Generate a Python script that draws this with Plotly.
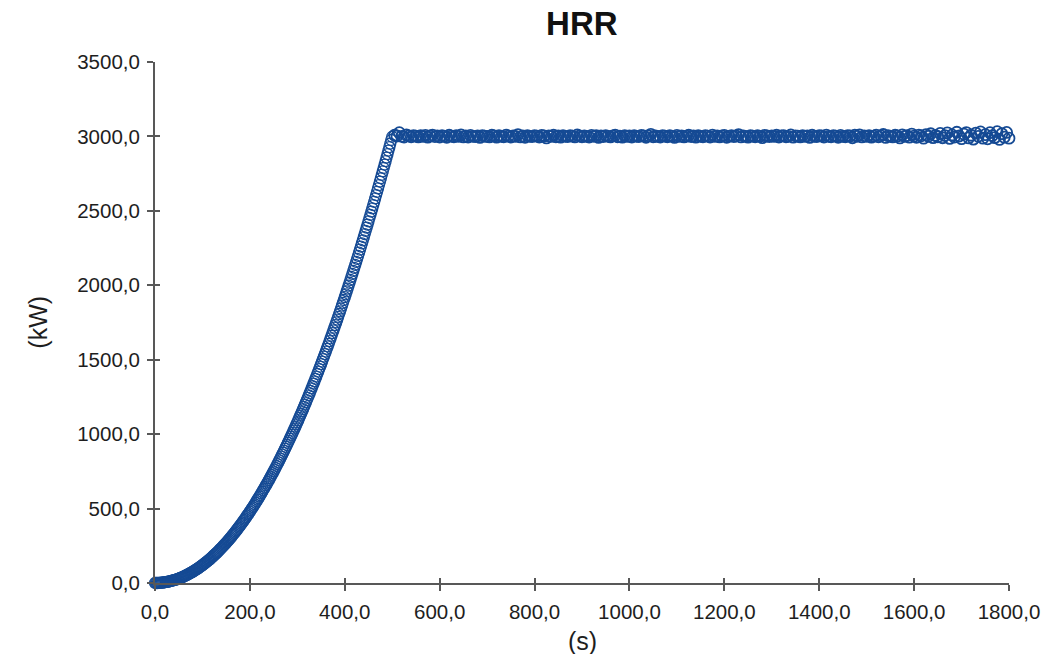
import plotly.graph_objects as go

# Growth phase, logged every 2 s from 0 s to 500 s (kW)
GROWTH_STEP_S = 2
hrr_growth = [
    0, 0, 0, 0, 1, 1, 2, 2, 3, 4, 5, 6, 7, 8, 9, 11, 12, 14, 16, 17, 19, 21, 23, 25, 28,
    30, 32, 35, 38, 40, 43, 46, 49, 52, 55, 59, 62, 66, 69, 73, 77, 81, 85, 89, 93, 97, 102, 106, 111, 115,
    120, 125, 130, 135, 140, 145, 151, 156, 161, 167, 173, 179, 185, 191, 197, 203, 209, 215, 222, 229, 235, 242, 249, 256, 263,
    270, 277, 285, 292, 300, 307, 315, 323, 331, 339, 347, 355, 363, 372, 380, 389, 397, 406, 415, 424, 433, 442, 452, 461, 470,
    480, 490, 499, 509, 519, 529, 539, 550, 560, 570, 581, 591, 602, 613, 624, 635, 646, 657, 668, 680, 691, 703, 714, 726, 738,
    750, 762, 774, 786, 799, 811, 824, 836, 849, 862, 875, 888, 901, 914, 927, 941, 954, 968, 982, 995, 1009, 1023, 1037, 1051, 1066,
    1080, 1094, 1109, 1124, 1138, 1153, 1168, 1183, 1198, 1213, 1229, 1244, 1260, 1275, 1291, 1307, 1323, 1339, 1355, 1371, 1387, 1404, 1420, 1437, 1453,
    1470, 1487, 1504, 1521, 1538, 1555, 1573, 1590, 1607, 1625, 1643, 1661, 1679, 1697, 1715, 1733, 1751, 1769, 1788, 1807, 1825, 1844, 1863, 1882, 1901,
    1920, 1939, 1959, 1978, 1998, 2017, 2037, 2057, 2077, 2097, 2117, 2137, 2157, 2178, 2198, 2219, 2239, 2260, 2281, 2302, 2323, 2344, 2366, 2387, 2408,
    2430, 2452, 2473, 2495, 2517, 2539, 2561, 2584, 2606, 2628, 2651, 2673, 2696, 2719, 2742, 2765, 2788, 2811, 2834, 2858, 2881, 2905, 2928, 2952, 2976,
    2998,
]

# Steady phase, logged every 5 s from 505 s to 1800 s (kW)
STEADY_STEP_S = 5
STEADY_START_S = 505
hrr_steady = [
    3008, 3003, 3025, 3001, 2996, 3010, 3004, 2998, 3006, 3002,
    2997, 3005, 3000, 3007, 2995, 3003, 3009, 2999, 3004, 2996,
    3006, 3001, 2994, 3008, 3002, 2998, 3005, 3000, 3010, 2997,
    3003, 2996, 3007, 3001, 2999, 3004, 2993, 3006, 3002, 3000,
    2997, 3008, 3003, 2995, 3005, 3001, 2998, 3009, 3002, 2996,
    3004, 3000, 3012, 2997, 3003, 2994, 3006, 3001, 2999, 3005,
    3002, 2996, 3007, 3003, 2990, 3004, 3000, 3008, 2998, 3003,
    2995, 3005, 3001, 2999, 3006, 3002, 2997, 3010, 3003, 2998,
    3004, 3000, 2996, 3007, 3001, 3005, 2993, 3003, 2999, 3006,
    3001, 2997, 3004, 3009, 2998, 3002, 2995, 3006, 3000, 3003,
    2996, 3005, 3001, 2999, 3007, 3003, 2994, 3004, 3014, 2998,
    3003, 3000, 2996, 3006, 3002, 2998, 3005, 3001, 2993, 3007,
    3000, 3004, 2997, 3002, 3008, 2999, 3003, 2995, 3006, 3001,
    2998, 3005, 3002, 2996, 3009, 3000, 3004, 2997, 3003, 3007,
    2994, 3001, 3006, 2999, 3003, 3012, 2997, 3004, 3000, 2995,
    3006, 3002, 2998, 3005, 3001, 2992, 3007, 3003, 2999, 3004,
    3000, 3008, 2996, 3003, 3005, 2998, 3001, 3010, 2995, 3004,
    3002, 2997, 3006, 3000, 3004, 2993, 3008, 3001, 2999, 3005,
    3003, 2996, 3009, 3001, 2998, 3006, 3002, 2994, 3007, 3000,
    2998, 3005, 3003, 2991, 3008, 3001, 3011, 2997, 3004, 3000,
    3006, 2995, 3002, 3009, 2998, 3004, 3013, 2993, 3005, 3001,
    2997, 3008, 3003, 2990, 3010, 3000, 3006, 2995, 3016, 3002,
    2994, 3009, 3004, 2988, 3012, 3001, 3018, 2992, 3007, 2998,
    3020, 2991, 3006, 3024, 2987, 3010, 2996, 3028, 3003, 2985,
    3015, 3026, 2990, 3008, 2982, 3022, 3001, 3030, 2988, 3012,
    2984, 3025, 3006, 2992, 3032, 2980, 3018, 2995, 3027, 2988,
]

time_growth = [i * GROWTH_STEP_S for i in range(len(hrr_growth))]
time_steady = [STEADY_START_S + i * STEADY_STEP_S for i in range(len(hrr_steady))]
time_s = time_growth + time_steady
hrr_kw = hrr_growth + hrr_steady

x_ticks = [0, 200, 400, 600, 800, 1000, 1200, 1400, 1600, 1800]
y_ticks = [0, 500, 1000, 1500, 2000, 2500, 3000, 3500]

AXIS_COLOR = "#585858"
TEXT_COLOR = "#1e1e1e"
MARKER_COLOR = "#154a94"
FONT = "Liberation Sans, Arial, sans-serif"

# Coarser steady-phase logging gets a heavier outline so both phases read alike
outline_widths = [1.3] * len(hrr_growth) + [1.8] * len(hrr_steady)

fig = go.Figure()

fig.add_trace(go.Scatter(
    x=time_s, y=hrr_kw,
    mode="markers",
    marker=dict(symbol="circle-open", size=11, color=MARKER_COLOR,
                line=dict(color=MARKER_COLOR, width=outline_widths)),
    cliponaxis=False,
    showlegend=False,
    hoverinfo="x+y",
))

# Empty trace carrying the overlay axes that give the inner half of each tick
fig.add_trace(go.Scatter(x=[None], y=[None], xaxis="x2", yaxis="y2",
                         showlegend=False, hoverinfo="skip"))

common = dict(
    showgrid=False, zeroline=False, automargin=False,
    showline=True, linecolor=AXIS_COLOR, linewidth=2,
    tickcolor=AXIS_COLOR, tickwidth=1.5,
)

fig.update_layout(
    width=1056, height=654,
    margin=dict(l=155, r=47, t=62, b=71),
    paper_bgcolor="white", plot_bgcolor="white",
    separators=",.",
    font=dict(family=FONT, color=TEXT_COLOR),
    title=dict(text="<b>HRR</b>", x=0.551, xanchor="center",
               y=1 - 23 / 654, yanchor="middle", yref="container",
               font=dict(size=33, color="#111111")),
    xaxis=dict(
        range=[0, 1800], tickvals=x_ticks, tickformat=".1f",
        ticks="outside", ticklen=6, ticklabelstandoff=3,
        tickfont=dict(size=20.5, color=TEXT_COLOR),
        **common,
    ),
    yaxis=dict(
        range=[0, 3500], tickvals=y_ticks, tickformat=".1f",
        ticks="outside", ticklen=6, ticklabelstandoff=3,
        tickfont=dict(size=20.5, color=TEXT_COLOR),
        **common,
    ),
    xaxis2=dict(
        overlaying="x", matches="x", range=[0, 1800], tickvals=x_ticks,
        ticks="inside", ticklen=5, showticklabels=False, automargin=False,
        showgrid=False, zeroline=False, showline=False,
        tickcolor=AXIS_COLOR, tickwidth=1.5, anchor="y2", side="bottom",
    ),
    yaxis2=dict(
        overlaying="y", matches="y", range=[0, 3500], tickvals=y_ticks,
        ticks="inside", ticklen=5, showticklabels=False, automargin=False,
        showgrid=False, zeroline=False, showline=False,
        tickcolor=AXIS_COLOR, tickwidth=1.5, anchor="x2", side="left",
    ),
    annotations=[
        dict(text="(s)", xref="paper", yref="paper", x=0.5, y=-0.111,
             xanchor="center", yanchor="middle", showarrow=False,
             font=dict(size=25, color=TEXT_COLOR)),
        dict(text="(kW)", xref="paper", yref="paper", x=-0.138, y=0.5,
             xanchor="center", yanchor="middle", textangle=-90, showarrow=False,
             font=dict(size=25, color=TEXT_COLOR)),
    ],
)

fig.write_html("out.html")
